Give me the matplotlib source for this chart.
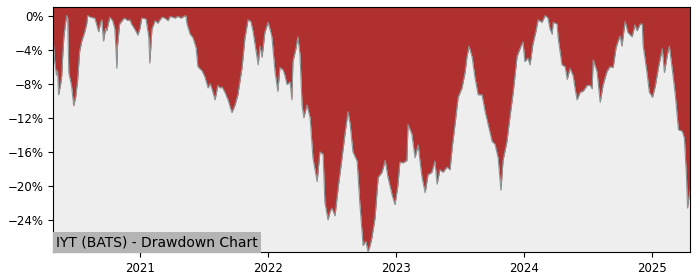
import matplotlib
matplotlib.use("Agg")
import matplotlib.pyplot as plt
import matplotlib.dates as mdates
from matplotlib.ticker import FuncFormatter, MultipleLocator
import pandas as pd

# drawdown of IYT (percent)
dates = [
    "2020-04-28", "2020-05-03", "2020-05-08", "2020-05-11", "2020-05-14", "2020-05-20",
    "2020-05-23", "2020-05-26", "2020-05-29", "2020-06-03", "2020-06-06", "2020-06-09",
    "2020-06-12", "2020-06-20", "2020-06-26", "2020-07-02", "2020-07-04", "2020-07-07",
    "2020-07-13", "2020-07-19", "2020-07-27", "2020-08-02", "2020-08-05", "2020-08-13",
    "2020-08-25", "2020-08-30", "2020-09-05", "2020-09-11", "2020-09-14", "2020-09-19",
    "2020-09-25", "2020-09-28", "2020-10-07", "2020-10-15", "2020-10-21", "2020-10-24",
    "2020-10-27", "2020-10-29", "2020-11-04", "2020-11-13", "2020-11-18", "2020-11-27",
    "2020-12-03", "2020-12-08", "2020-12-17", "2020-12-26",
    "2021-01-01", "2021-01-06", "2021-01-18", "2021-01-26", "2021-01-29", "2021-02-04",
    "2021-02-13", "2021-02-21", "2021-02-27", "2021-03-05", "2021-03-13", "2021-03-22",
    "2021-03-28", "2021-04-11", "2021-04-19", "2021-04-28", "2021-05-06", "2021-05-12",
    "2021-05-15", "2021-05-24", "2021-06-01", "2021-06-10", "2021-06-15", "2021-06-27",
    "2021-07-05", "2021-07-14", "2021-07-20", "2021-07-25", "2021-08-03", "2021-08-11",
    "2021-08-17", "2021-08-23", "2021-08-31", "2021-09-09", "2021-09-20", "2021-09-29",
    "2021-10-07", "2021-10-19", "2021-10-27", "2021-11-05", "2021-11-13", "2021-11-19",
    "2021-11-25", "2021-12-04", "2021-12-09", "2021-12-15", "2021-12-23",
    "2022-01-01", "2022-01-06", "2022-01-12", "2022-01-21", "2022-01-29", "2022-02-04",
    "2022-02-13", "2022-02-18", "2022-02-24", "2022-03-05", "2022-03-10", "2022-03-13",
    "2022-03-22", "2022-03-27", "2022-04-02", "2022-04-08", "2022-04-13", "2022-04-22",
    "2022-05-01", "2022-05-09", "2022-05-21", "2022-05-29", "2022-06-07", "2022-06-12",
    "2022-06-21", "2022-06-27", "2022-07-02", "2022-07-11", "2022-07-20", "2022-07-31",
    "2022-08-09", "2022-08-17", "2022-08-23", "2022-08-31", "2022-09-12", "2022-09-20",
    "2022-09-29", "2022-10-07", "2022-10-13", "2022-10-19", "2022-10-24", "2022-11-02",
    "2022-11-11", "2022-11-22", "2022-12-01", "2022-12-09", "2022-12-21", "2022-12-29",
    "2023-01-06", "2023-01-12", "2023-01-21", "2023-02-01", "2023-02-04", "2023-02-15",
    "2023-02-24", "2023-03-05", "2023-03-10", "2023-03-16", "2023-03-25", "2023-04-02",
    "2023-04-13", "2023-04-22", "2023-04-28", "2023-05-06", "2023-05-15", "2023-05-26",
    "2023-06-04", "2023-06-10", "2023-06-18", "2023-06-27", "2023-07-08", "2023-07-17",
    "2023-07-22", "2023-07-28", "2023-08-06", "2023-08-14", "2023-08-23", "2023-09-03",
    "2023-09-12", "2023-09-20", "2023-10-02", "2023-10-10", "2023-10-19", "2023-10-27",
    "2023-11-02", "2023-11-13", "2023-11-22", "2023-12-01", "2023-12-12", "2023-12-21",
    "2023-12-29",
    "2024-01-03", "2024-01-12", "2024-01-18", "2024-01-26", "2024-02-04", "2024-02-10",
    "2024-02-21", "2024-03-01", "2024-03-09", "2024-03-15", "2024-03-21", "2024-03-24",
    "2024-04-04", "2024-04-07", "2024-04-18", "2024-04-27", "2024-05-03", "2024-05-11",
    "2024-05-20", "2024-05-25", "2024-05-31", "2024-06-09", "2024-06-17", "2024-06-29",
    "2024-07-07", "2024-07-13", "2024-07-16", "2024-07-27", "2024-08-05", "2024-08-13",
    "2024-08-19", "2024-08-25", "2024-09-02", "2024-09-11", "2024-09-19", "2024-09-25",
    "2024-10-01", "2024-10-06", "2024-10-15", "2024-10-23", "2024-11-04", "2024-11-12",
    "2024-11-18", "2024-11-27", "2024-12-03", "2024-12-05", "2024-12-17", "2024-12-23",
    "2025-01-01", "2025-01-09", "2025-01-18", "2025-01-29", "2025-02-04", "2025-02-13",
    "2025-02-18", "2025-02-27", "2025-03-07", "2025-03-16", "2025-03-27", "2025-04-02",
    "2025-04-08", "2025-04-11", "2025-04-16", "2025-04-18",
]
drawdown = [
    -2.5, -5.5, -7.0, -6.5, -9.3, -8.0,
    -7.0, -4.5, -2.5, -0.8, 0.0, -0.3,
    -6.7, -8.3, -10.6, -9.5, -8.7, -7.7,
    -4.2, -3.0, -2.0, -1.0, 0.0, -0.2,
    -0.3, -1.0, -1.9, -0.8, -0.5, -3.0,
    -1.5, -1.8, -0.2, -0.6, -1.5, -3.5,
    -6.2, -3.5, -1.0, -0.5, -0.3, -0.6,
    -0.5, -1.0, -1.6, -2.3,
    -1.5, -0.3, -0.4, -2.5, -5.6, -1.6,
    -0.6, -0.9, -0.5, -0.2, -0.3, -0.6,
    -0.1, -0.3, -0.1, -0.3, -0.1, 0.0,
    -1.0, -2.2, -2.6, -3.8, -6.0, -6.5,
    -7.2, -8.5, -8.0, -8.6, -9.9, -8.2,
    -8.5, -8.4, -9.0, -9.9, -11.4, -10.5,
    -9.3, -6.1, -2.7, -0.5, -0.7, -1.8,
    -3.4, -5.8, -3.6, -4.9, -2.0,
    -0.8, -1.5, -2.5, -6.6, -8.9, -6.1,
    -6.4, -7.0, -8.1, -7.8, -9.9, -5.4,
    -3.8, -2.5, -4.5, -10.5, -12.0, -10.5,
    -12.0, -16.7, -19.5, -16.0, -16.3, -21.9,
    -24.0, -23.0, -22.6, -23.5, -20.2, -16.7,
    -13.7, -11.3, -12.7, -16.0, -17.1, -22.2,
    -27.0, -26.5, -27.76, -27.0, -26.1, -23.8,
    -19.0, -18.4, -17.0, -19.0, -21.1, -22.2,
    -20.0, -17.2, -17.3, -17.0, -12.8, -13.9,
    -16.7, -15.2, -17.0, -19.0, -20.8, -18.7,
    -18.4, -17.1, -19.8, -18.1, -18.4, -17.8,
    -18.1, -15.5, -12.8, -9.6, -8.5, -6.6,
    -4.9, -3.6, -4.9, -7.3, -9.3, -9.3,
    -11.3, -12.7, -14.8, -15.1, -16.7, -20.5,
    -17.0, -14.8, -11.8, -9.0, -4.8, -3.8,
    -3.1,
    -5.4, -5.0, -5.8, -3.4, -1.8, -0.5,
    -0.8, 0.0, -0.3, -1.6, -2.2, -0.8,
    -1.0, -2.6, -5.8, -6.0, -7.5, -6.2,
    -7.1, -8.5, -9.9, -9.0, -8.9, -8.2,
    -8.2, -8.6, -5.2, -6.6, -10.2, -8.2,
    -7.3, -6.5, -6.0, -6.1, -3.8, -3.0,
    -2.4, -3.6, -0.7, -2.0, -2.5, -1.1,
    -1.8, -1.0, -1.0, -3.4, -6.9, -9.0,
    -9.6, -8.3, -6.1, -3.9, -6.7, -4.5,
    -3.6, -6.5, -9.3, -13.4, -13.6, -14.4,
    -19.0, -22.6, -21.0, -20.5,
]
title = "IYT (BATS) - Drawdown Chart"

x = pd.to_datetime(dates)
y = [v / 100 for v in drawdown]
top = 0.01

fig = plt.figure(figsize=(7, 2.8), dpi=100)
ax = fig.add_axes([0.0757, 0.1, 0.91, 0.875])
ax.set_facecolor("#eeeeee")

# red area runs from the drawdown line up to the top of the axes
ax.fill_between(x, y, top, color="#b03030", linewidth=0)
ax.plot(x, y, color="#8a9595", linewidth=0.8)

ax.set_xlim(x[0], x[-1])
ax.set_ylim(min(y), top)

ax.yaxis.set_major_locator(MultipleLocator(0.04))
ax.yaxis.set_major_formatter(FuncFormatter(lambda v, p: f"{v * 100:.0f}%".replace("-", "\u2212")))
ax.xaxis.set_major_locator(mdates.YearLocator())
ax.xaxis.set_major_formatter(mdates.DateFormatter("%Y"))
ax.tick_params(labelsize=8.5)

ax.text(0.005, 0.012, title, transform=ax.transAxes, fontsize=10,
        ha="left", va="bottom",
        bbox=dict(facecolor="#b4b4b4", edgecolor="none", pad=2.5))

plt.savefig("out.png", dpi=100)
